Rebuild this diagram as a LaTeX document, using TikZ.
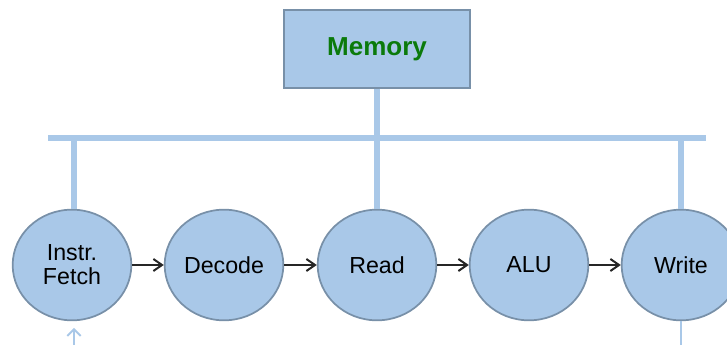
\documentclass[tikz,border=0pt]{standalone}
\usepackage{fontspec}
\setmainfont{Liberation Sans}
\usepackage{xcolor,tikz}
\usetikzlibrary{arrows.meta,positioning,shapes.geometric}
\definecolor{StageFill}{HTML}{A9C8E8}
\definecolor{StageBorder}{HTML}{7890A8}
\definecolor{MemText}{HTML}{0B7A0B}
\tikzset{>=Stealth,every node/.style={font=\fontsize{17.4}{20}\selectfont},
 stage/.style={ellipse,draw=StageBorder,line width=1.3pt,fill=StageFill,
 minimum width=89pt,minimum height=83pt,inner sep=0pt,align=center},
 membox/.style={draw=StageBorder,line width=1.3pt,fill=StageFill,minimum width=140pt,
 minimum height=58pt,font=\fontsize{19.5}{22}\selectfont\bfseries,text=MemText},
 bus/.style={StageFill,line width=4.5pt},stub/.style={StageFill,line width=5pt},
 flow/.style={draw=black!85,line width=0.9pt,-{Straight Barb[length=6.5pt,width=9pt,line width=1.5pt]}}}
\begin{document}
\begin{tikzpicture}[x=0.75pt,y=-0.75pt]
\useasboundingbox (0,0) rectangle (727,345);
\node[stage] (fetch) at (72,265) {Instr.\\[-2pt]Fetch};
\node[stage] (decode) at (224,265) {Decode};
\node[stage] (read) at (377,265) {Read};
\node[stage] (alu) at (529,265) {ALU};
\node[stage] (write) at (681,265) {Write};
\node[membox] (mem) at (377,49) {Memory};
\coordinate (busL) at (48,138);
\coordinate (busR) at (706,138);
\coordinate (fetchIn) at (74,345);
\coordinate (writeOut) at (681,345);
% bus and memory
\draw[bus] (busL)--(busR);
\draw[stub] (mem.south)--(read.north);
\draw[stub] ([xshift=1.5pt]fetch.north)--([xshift=1.5pt]fetch.north |- busL);
\draw[stub] (write.north)--(write.north |- busR);
% pipeline
\draw[flow] (fetch)--(decode);
\draw[flow] (decode)--(read);
\draw[flow] (read)--(alu);
\draw[flow] (alu)--(write);
\draw[StageFill,line width=1.5pt,-{Straight Barb[length=5pt,width=10pt,line width=1.5pt]},shorten >=5pt] (fetchIn)--([xshift=1.5pt]fetch.south);
\draw[StageFill,line width=1pt] (writeOut)--(write.south);
\end{tikzpicture}
\end{document}
